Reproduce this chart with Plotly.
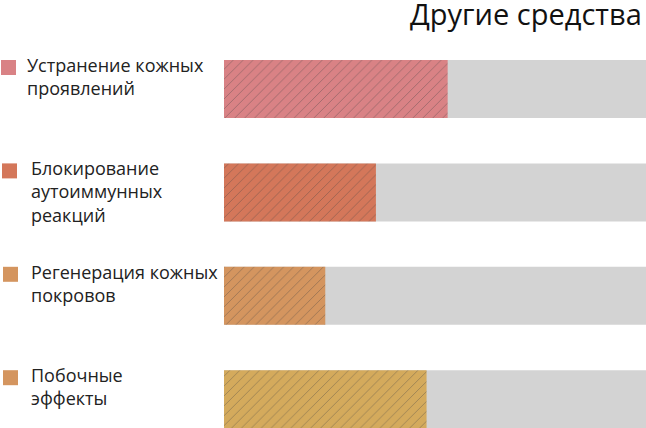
import plotly.graph_objects as go

categories = ["Устранение кожных<br>проявлений",
              "Блокирование<br>аутоиммунных<br>реакций",
              "Регенерация кожных<br>покровов",
              "Побочные<br>эффекты"]
values = [53, 36, 24, 48]
total = [100, 100, 100, 100]
bar_colors = ["#d98285", "#d4775a", "#d4955f", "#d4aa5c"]
line_colors = ["#a8585c", "#a4533a", "#a46a3c", "#a4823a"]
legend_colors = ["#d98285", "#d4775a", "#d4955f", "#d4955f"]
title = "Другие средства"

W, H = 646, 428
pitch = 103.4
first_center = 89
bar_w = 58 / pitch
y_lo = -first_center / pitch
y_hi = (H - first_center) / pitch
idx = list(range(len(categories)))

fig = go.Figure()
fig.add_trace(go.Bar(x=total, y=idx, orientation="h", width=bar_w,
                     marker=dict(color="#d3d3d3", line=dict(width=0)),
                     hoverinfo="skip", showlegend=False))
fig.add_trace(go.Bar(x=values, y=idx, orientation="h", width=bar_w,
                     marker=dict(color=bar_colors, line=dict(width=0),
                                 pattern=dict(shape="/", size=7, solidity=0.1,
                                              fgcolor=line_colors, fgopacity=0.5)),
                     showlegend=False))

sq = 15 / pitch
x_text = [25, 29, 29, 29]
x_sq = [1, 2, 3, 3]
for i, (lab, c) in enumerate(zip(categories, legend_colors)):
    top = i - bar_w / 2
    fig.add_shape(type="rect", xref="paper", yref="y",
                  x0=x_sq[i] / W, x1=(x_sq[i] + 15) / W, y0=top, y1=top + sq,
                  fillcolor=c, line=dict(width=0))
    fig.add_annotation(text=lab, xref="paper", yref="y", x=x_text[i] / W, y=top,
                       xanchor="left", yanchor="top", align="left", showarrow=False,
                       yshift=9,
                       font=dict(family="Open Sans", size=18, color="#222222"))

fig.add_annotation(text=title, xref="paper", yref="paper", x=644 / W, y=1,
                   xanchor="right", yanchor="top", showarrow=False, yshift=8,
                   font=dict(family="Open Sans", size=29, color="#111111"))

fig.update_layout(
    width=W, height=H, barmode="overlay",
    margin=dict(l=0, r=0, t=0, b=0),
    paper_bgcolor="white", plot_bgcolor="white",
    xaxis=dict(domain=[224 / W, 1], range=[0, 100], visible=False, fixedrange=True),
    yaxis=dict(range=[y_hi, y_lo], visible=False, fixedrange=True),
)
fig.write_html("out.html", config={"displayModeBar": False},
               post_script="document.body.style.margin='0';document.body.style.overflow='hidden';")
